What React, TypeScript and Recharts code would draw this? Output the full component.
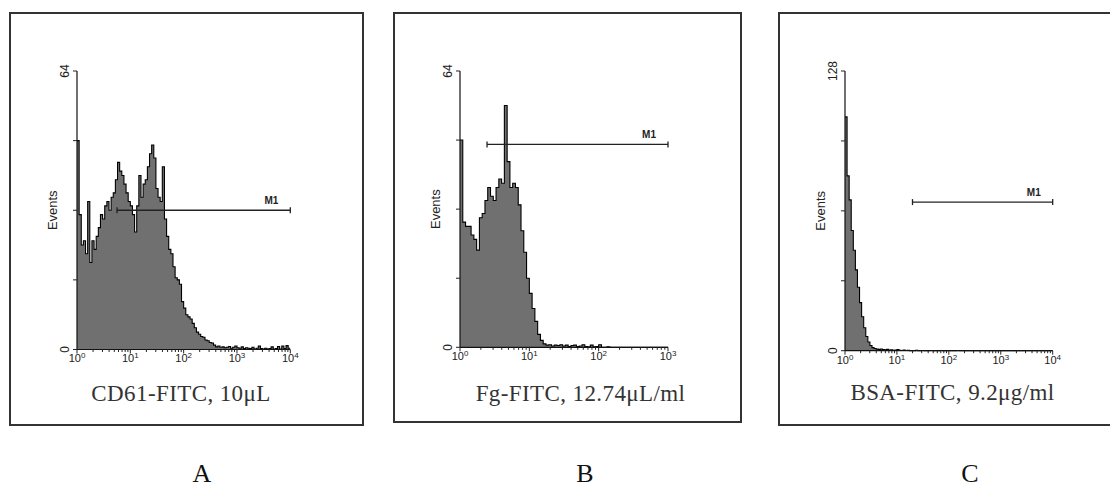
import { AreaChart, Area, XAxis, YAxis, ReferenceLine } from 'recharts';

// histogram bins: 25 channels per log decade, counts
const BINS_PER_DECADE = 25;

const A_COUNTS = [
  48, 31, 24, 25, 22, 34, 20, 25, 23, 26,
  28, 31, 30, 33, 34, 32, 35, 36, 39, 43,
  41, 40, 38, 36, 34, 33, 31, 27, 33, 40,
  35, 38, 39, 42, 45, 47, 44, 37, 35, 34,
  42, 30, 26, 23, 22, 19, 16.5, 16, 15, 11,
  9.5, 8, 7.5, 7, 6, 5, 4, 3.5, 3, 2.8,
  2.2, 2, 1.6, 1.5, 1, 0.6, 0.8, 0.5, 0.6, 0.4,
  0.5, 0.7, 0.3, 0.5, 0.8, 0.4, 0.3, 0.6, 0.2, 0.4,
  0.3, 0.2, 0.5, 0.1, 0.3, 0.8, 0.2, 0.1, 0.3, 0.1,
  0.2, 0.6, 0.1, 0.2, 0.7, 0.1, 0.8, 0.2, 0.9, 0.3,
];

const B_COUNTS = [
  48, 29, 28, 28, 26, 25, 22.5, 30, 31, 34,
  37, 35, 34, 37, 39, 38, 56, 43, 37, 38,
  37, 33, 27, 22, 16, 12.5, 9, 6, 3, 1.6,
  0.8, 0.5, 0.6, 0.3, 0.5, 0.4, 0.6, 0.3, 0.5, 0.2,
  0.4, 0.5, 0.2, 0.3, 0.6, 0.2, 0.1, 0.5, 0.1, 0.2,
  0.6, 0, 0, 0.1, 0, 0, 0, 0, 0, 0,
  0, 0, 0, 0, 0, 0, 0, 0, 0, 0,
  0, 0, 0, 0, 0,
];

const C_COUNTS = [
  107, 80, 69, 55, 46, 37, 29, 22, 15.5, 10.5,
  6.5, 4, 2.4, 1.4, 1, 0.7, 0.6, 0.8, 0.5, 0.4,
  0.6, 0.3, 0.4, 0.2, 0.3, 0.5, 0.2, 0.1, 0.3, 0.1,
  0.2, 0, 0.1, 0, 0.2, 0, 0, 0.1, 0, 0,
  0, 0.1, 0, 0, 0, 0, 0.1, 0, 0, 0,
  0, 0, 0, 0, 0.1, 0, 0, 0, 0, 0,
  0, 0, 0, 0, 0, 0, 0, 0, 0, 0,
  0, 0, 0, 0, 0, 0, 0, 0, 0, 0,
  0, 0, 0, 0, 0, 0, 0, 0, 0, 0,
  0, 0, 0, 0, 0, 0, 0, 0, 0, 0,
];

// exponent shown after "10" at each decade
const A_DECADES = ['0', '1', '2', '3', '4'];
const B_DECADES = ['0', '1', '2', '3'];
const C_DECADES = ['0', '1', '2', '3', '4'];

const A_Y_TICKS = [0, 16, 32, 48, 64];
const B_Y_TICKS = [0, 16, 32, 48, 64];
const C_Y_TICKS = [0, 32, 64, 96, 128];

// M1 marker: [from decade, to decade, height in events]
const A_GATE = [0.75, 4, 32];
const B_GATE = [0.39, 3, 47];
const C_GATE = [1.3, 4, 68];

const TITLES = ['CD61-FITC, 10μL', 'Fg-FITC, 12.74μL/ml', 'BSA-FITC, 9.2μg/ml'];
const LETTERS = ['A', 'B', 'C'];

const SANS = '"Liberation Sans", Arial, sans-serif';
const SERIF = '"Liberation Serif", "Times New Roman", serif';
const INK = '#222';

function toBins(counts: number[]) {
  const rows = counts.map((n, i) => ({ x: i / BINS_PER_DECADE, n }));
  rows.push({ x: counts.length / BINS_PER_DECADE, n: counts[counts.length - 1] });
  return rows;
}

function logTicks(decades: number) {
  const out: number[] = [];
  for (let d = 0; d < decades; d++) {
    for (let k = 1; k < 10; k++) out.push(d + Math.log10(k));
  }
  out.push(decades);
  return out;
}

const xTick = (labels: string[]) => (p: any) => {
  const v = p.payload.value;
  const major = Number.isInteger(v);
  return (
    <g>
      <line x1={p.x} y1={p.y} x2={p.x} y2={p.y + (major ? 4 : 2.5)} stroke={INK} strokeWidth={1} />
      {major && (
        <text x={p.x} y={p.y + 13} textAnchor="middle" fontFamily={SANS} fontSize={11} fill={INK}>
          10<tspan dy={-4} fontSize={8}>{labels[v]}</tspan>
        </text>
      )}
    </g>
  );
};

const yTick = (top: number) => (p: any) => {
  const v = p.payload.value;
  const show = v === 0 || v === top;
  const bx = p.x - 8;
  return (
    <g>
      <line x1={p.x - 4} y1={p.y} x2={p.x} y2={p.y} stroke={INK} strokeWidth={1} />
      {show && (
        <text x={bx} y={p.y} transform={`rotate(-90 ${bx} ${p.y})`} textAnchor="middle"
          fontFamily={SANS} fontSize={12} fill={INK}>{v}</text>
      )}
    </g>
  );
};

const eventsLabel = (p: any) => {
  const vb = p.viewBox;
  if (!vb) return null;
  const x = vb.x + vb.width - 20;
  const y = vb.y + vb.height / 2;
  return (
    <text x={x} y={y} transform={`rotate(-90 ${x} ${y})`} textAnchor="middle"
      fontFamily={SANS} fontSize={13} fill={INK}>Events</text>
  );
};

const gateShape = (p: any) => {
  const { x1, y1, x2 } = p;
  return (
    <g>
      <line x1={x1} y1={y1} x2={x2} y2={y1} stroke={INK} strokeWidth={1.3} />
      <line x1={x1} y1={y1 - 3} x2={x1} y2={y1 + 3} stroke={INK} strokeWidth={1.3} />
      <line x1={x2} y1={y1 - 3} x2={x2} y2={y1 + 3} stroke={INK} strokeWidth={1.3} />
      <text x={x2 - 12} y={y1 - 6.5} textAnchor="end" fontFamily={SANS} fontSize={10}
        fontWeight="bold" fill={INK}>M1</text>
    </g>
  );
};

interface Plot { x: number; y: number; w: number; h: number }

interface HistProps {
  counts: number[];
  decades: string[];
  yTicks: number[];
  gate: number[];
  plot: Plot;
}

function Histogram({ counts, decades, yTicks, gate, plot }: HistProps) {
  const data = toBins(counts);
  const nDec = decades.length - 1;
  const top = yTicks[yTicks.length - 1];
  return (
    <div style={{ position: 'absolute', left: plot.x - 40, top: plot.y - 20 }}>
      <AreaChart width={plot.w + 60} height={plot.h + 60} data={data}
        margin={{ top: 20, right: 20, left: 0, bottom: 0 }}>
        <XAxis dataKey="x" type="number" domain={[0, nDec]} ticks={logTicks(nDec)} interval={0}
          height={40} tickLine={false} tickSize={0} tickMargin={0}
          axisLine={{ stroke: '#111', strokeWidth: 1.2 }} tick={xTick(decades)} allowDataOverflow />
        <YAxis type="number" domain={[0, top]} ticks={yTicks} interval={0} width={40}
          tickLine={false} tickSize={0} tickMargin={0}
          axisLine={{ stroke: '#111', strokeWidth: 1.2 }} tick={yTick(top)}
          label={{ content: eventsLabel }} />
        <Area type="stepAfter" dataKey="n" stroke="#000" strokeWidth={1.1} fill="#707070"
          fillOpacity={1} isAnimationActive={false} dot={false} activeDot={false} />
        <ReferenceLine segment={[{ x: gate[0], y: gate[2] }, { x: gate[1], y: gate[2] }]}
          shape={gateShape} ifOverflow="visible" />
      </AreaChart>
    </div>
  );
}

const boxStyle = (left: number, width: number, height: number) => ({
  position: 'absolute' as const,
  left,
  top: 12,
  width,
  height,
  border: '2px solid #333',
  boxSizing: 'border-box' as const,
  background: '#fff',
});

const centered = (x: number, y: number, size: number, lh: number) => ({
  position: 'absolute' as const,
  left: x,
  top: y,
  transform: 'translate(-50%, -50%)',
  fontFamily: SERIF,
  fontSize: size,
  lineHeight: lh,
  whiteSpace: 'nowrap' as const,
});

const titleStyle = (x: number, y: number) => ({
  ...centered(x, y, 23, 1),
  color: '#333',
  letterSpacing: 0.4,
});

const letterStyle = (x: number) => ({ ...centered(x, 474, 26, 1), color: '#111' });

export default function App() {
  return (
    <div style={{ position: 'absolute', left: 0, top: 0, width: 1110, height: 489,
      overflow: 'hidden', background: '#fff' }}>
      <div style={boxStyle(9, 355, 414)} />
      <div style={boxStyle(393, 349, 411)} />
      <div style={boxStyle(778, 345, 414)} />

      <Histogram counts={A_COUNTS} decades={A_DECADES} yTicks={A_Y_TICKS} gate={A_GATE}
        plot={{ x: 76.7, y: 71, w: 213.3, h: 278.5 }} />
      <Histogram counts={B_COUNTS} decades={B_DECADES} yTicks={B_Y_TICKS} gate={B_GATE}
        plot={{ x: 460.3, y: 71, w: 208, h: 276.3 }} />
      <Histogram counts={C_COUNTS} decades={C_DECADES} yTicks={C_Y_TICKS} gate={C_GATE}
        plot={{ x: 845, y: 71, w: 207.7, h: 279.7 }} />

      <div style={titleStyle(181, 393)}>{TITLES[0]}</div>
      <div style={titleStyle(580.5, 393)}>{TITLES[1]}</div>
      <div style={titleStyle(952.5, 392)}>{TITLES[2]}</div>

      <div style={letterStyle(202)}>{LETTERS[0]}</div>
      <div style={letterStyle(585)}>{LETTERS[1]}</div>
      <div style={letterStyle(970)}>{LETTERS[2]}</div>
    </div>
  );
}
